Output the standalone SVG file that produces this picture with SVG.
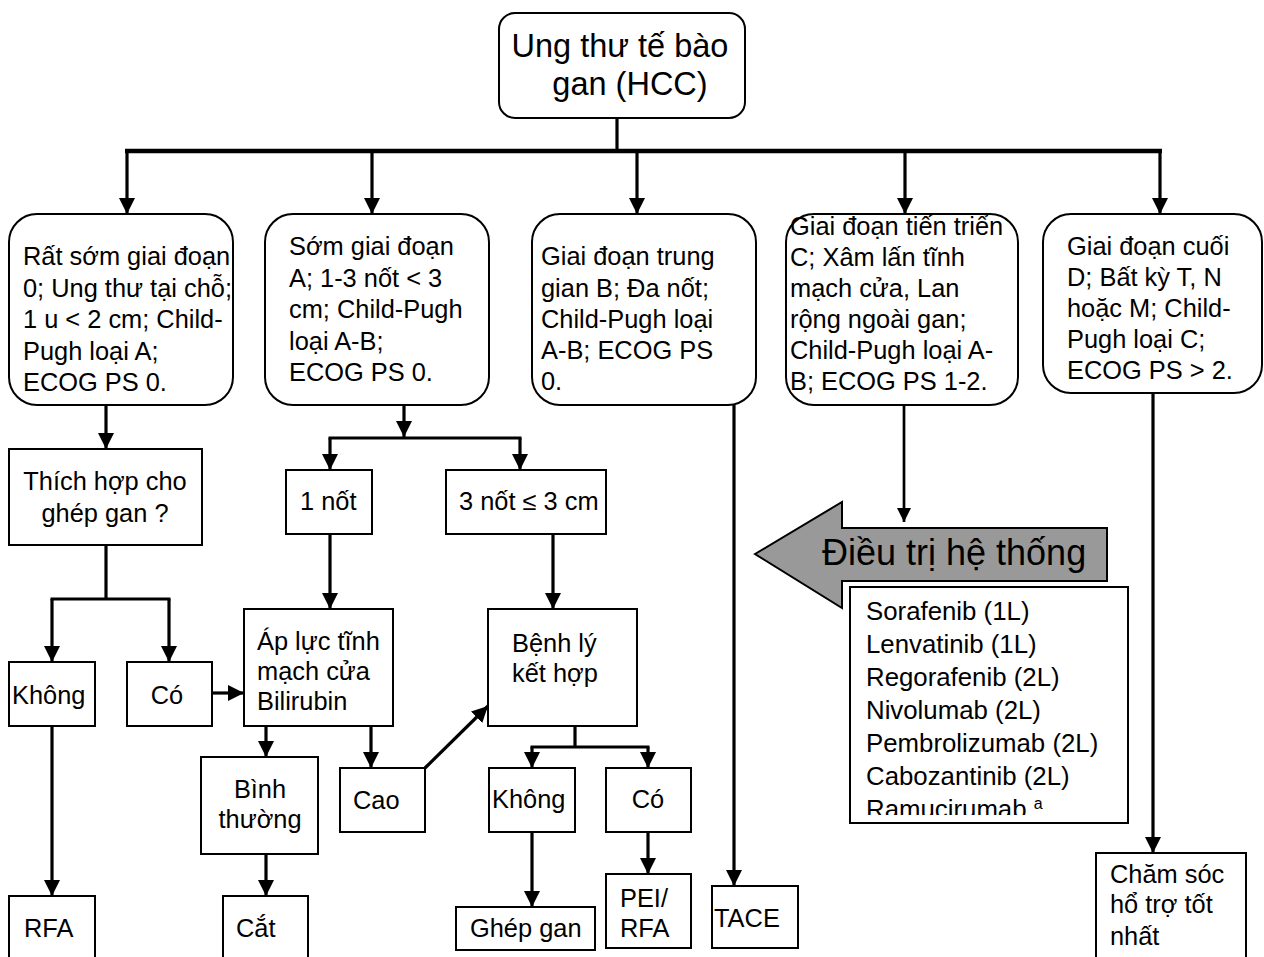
<svg xmlns="http://www.w3.org/2000/svg" width="1264" height="957" viewBox="0 0 1264 957">
<style>
text{font-family:"Liberation Sans",Arial,sans-serif;fill:#000;font-size:25.4px}
.big{font-size:32.5px}
.dr{font-size:25.8px}
.rb{fill:#fff;stroke:#000;stroke-width:2}
.bx{fill:#fff;stroke:#000;stroke-width:2}
.c{stroke:#000;stroke-width:3.2;fill:none}
.ca{stroke:#000;stroke-width:3.2;fill:none;marker-end:url(#ah)}
.mid{text-anchor:middle}
</style>
<defs>
<marker id="ah" markerUnits="userSpaceOnUse" viewBox="0 0 16 16" refX="16" refY="8" markerWidth="16" markerHeight="16" orient="auto">
<path d="M0,0 L16,8 L0,16 z" fill="#000"/>
</marker>
<marker id="ahs" markerUnits="userSpaceOnUse" viewBox="0 0 14 14" refX="14" refY="7" markerWidth="14" markerHeight="14" orient="auto">
<path d="M0,0 L14,7 L0,14 z" fill="#000"/>
</marker>
<clipPath id="drugclip"><rect x="850" y="587" width="278" height="228"/></clipPath>
</defs>

<g id="connectors">
<line class="c" x1="617" y1="118" x2="617" y2="151"/>
<line x1="125" y1="151" x2="1162" y2="151" stroke="#000" stroke-width="4.5"/>
<line class="ca" x1="127" y1="151" x2="127" y2="214"/>
<line class="ca" x1="372" y1="151" x2="372" y2="214"/>
<line class="ca" x1="637" y1="151" x2="637" y2="214"/>
<line class="ca" x1="905" y1="151" x2="905" y2="214"/>
<line class="ca" x1="1160" y1="151" x2="1160" y2="214"/>
<line class="ca" x1="106" y1="405" x2="106" y2="449"/>
<line class="c" x1="106" y1="545" x2="106" y2="599"/>
<line class="c" x1="50.5" y1="599" x2="170.5" y2="599" stroke-width="4"/>
<line class="ca" x1="52" y1="599" x2="52" y2="662"/>
<line class="ca" x1="169" y1="599" x2="169" y2="662"/>
<line class="ca" x1="212" y1="693" x2="244" y2="693" stroke-width="4"/>
<line class="ca" x1="52" y1="726" x2="52" y2="896"/>
<line class="ca" x1="404" y1="405" x2="404" y2="437"/>
<line class="c" x1="328.5" y1="438" x2="521.5" y2="438" stroke-width="4"/>
<line class="ca" x1="330" y1="438" x2="330" y2="470"/>
<line class="ca" x1="520" y1="438" x2="520" y2="470"/>
<line class="ca" x1="330" y1="534" x2="330" y2="609"/>
<line class="ca" x1="553" y1="534" x2="553" y2="609"/>
<line class="ca" x1="266" y1="726" x2="266" y2="757"/>
<line class="ca" x1="371" y1="726" x2="371" y2="768"/>
<line class="ca" x1="266" y1="854" x2="266" y2="896"/>
<line class="ca" x1="425" y1="768" x2="488" y2="706"/>
<line class="c" x1="575" y1="726" x2="575" y2="747"/>
<line class="c" x1="530.5" y1="747" x2="649.5" y2="747" stroke-width="4"/>
<line class="ca" x1="532" y1="747" x2="532" y2="768"/>
<line class="ca" x1="648" y1="747" x2="648" y2="768"/>
<line class="ca" x1="532" y1="832" x2="532" y2="907"/>
<line class="ca" x1="648" y1="832" x2="648" y2="874"/>
<line class="ca" x1="734" y1="405" x2="734" y2="886"/>
<line x1="904" y1="405" x2="904" y2="522" stroke="#000" stroke-width="2.7" marker-end="url(#ahs)"/>
<line class="ca" x1="1153" y1="393" x2="1153" y2="853"/>
</g>

<g id="n-root">
<rect class="rb" x="499" y="13" width="246" height="105" rx="16"/>
<text class="big mid" x="620" y="57">Ung thư tế bào</text>
<text class="big mid" x="630" y="95">gan (HCC)</text>
</g>

<g id="n-stage0">
<rect class="rb" x="9" y="214" width="224" height="191" rx="28"/>
<text x="23" y="265">Rất sớm giai đoạn</text>
<text x="23" y="297">0; Ung thư tại chỗ;</text>
<text x="23" y="328">1 u &lt; 2 cm; Child-</text>
<text x="23" y="360">Pugh loại A;</text>
<text x="23" y="391">ECOG PS 0.</text>
</g>

<g id="n-stageA">
<rect class="rb" x="265" y="214" width="224" height="191" rx="28"/>
<text x="289" y="255">Sớm giai đoạn</text>
<text x="289" y="287">A; 1-3 nốt &lt; 3</text>
<text x="289" y="318">cm; Child-Pugh</text>
<text x="289" y="350">loại A-B;</text>
<text x="289" y="381">ECOG PS 0.</text>
</g>

<g id="n-stageB">
<rect class="rb" x="532" y="214" width="224" height="191" rx="28"/>
<text x="541" y="265">Giai đoạn trung</text>
<text x="541" y="297">gian B; Đa nốt;</text>
<text x="541" y="328">Child-Pugh loại</text>
<text x="541" y="359">A-B; ECOG PS</text>
<text x="541" y="390">0.</text>
</g>

<g id="n-stageC">
<rect class="rb" x="786" y="214" width="232" height="191" rx="28"/>
<text x="790" y="235">Giai đoạn tiến triển</text>
<text x="790" y="266">C; Xâm lấn tĩnh</text>
<text x="790" y="297">mạch cửa, Lan</text>
<text x="790" y="328">rộng ngoài gan;</text>
<text x="790" y="359">Child-Pugh loại A-</text>
<text x="790" y="390">B; ECOG PS 1-2.</text>
</g>

<g id="n-stageD">
<rect class="rb" x="1043" y="214" width="219" height="179" rx="28"/>
<text x="1067" y="255">Giai đoạn cuối</text>
<text x="1067" y="286">D; Bất kỳ T, N</text>
<text x="1067" y="317">hoặc M; Child-</text>
<text x="1067" y="348">Pugh loại C;</text>
<text x="1067" y="379">ECOG PS &gt; 2.</text>
</g>

<g id="n-transplant-q">
<rect class="bx" x="9" y="449" width="193" height="96"/>
<text class="mid" x="105" y="490">Thích hợp cho</text>
<text class="mid" x="105" y="522">ghép gan ?</text>
</g>

<g id="n-khong1">
<rect class="bx" x="9" y="662" width="86" height="64"/>
<text x="12" y="704">Không</text>
</g>

<g id="n-co1">
<rect class="bx" x="127" y="662" width="85" height="64"/>
<text class="mid" x="167" y="704">Có</text>
</g>

<g id="n-1not">
<rect class="bx" x="286" y="470" width="86" height="64"/>
<text x="300" y="510">1 nốt</text>
</g>

<g id="n-3not">
<rect class="bx" x="446" y="470" width="160" height="64"/>
<text x="459" y="510">3 nốt ≤ 3 cm</text>
</g>

<g id="n-apluc">
<rect class="bx" x="244" y="609" width="149" height="117"/>
<text x="257" y="650">Áp lực tĩnh</text>
<text x="257" y="680">mạch cửa</text>
<text x="257" y="710">Bilirubin</text>
</g>

<g id="n-benhly">
<rect class="bx" x="488" y="609" width="149" height="117"/>
<text x="512" y="652">Bệnh lý</text>
<text x="512" y="682">kết hợp</text>
</g>

<g id="n-binhthuong">
<rect class="bx" x="201" y="757" width="117" height="97"/>
<text class="mid" x="260" y="798">Bình</text>
<text class="mid" x="260" y="828">thường</text>
</g>

<g id="n-cao">
<rect class="bx" x="340" y="768" width="85" height="64"/>
<text x="353" y="809">Cao</text>
</g>

<g id="n-khong2">
<rect class="bx" x="489" y="768" width="86" height="64"/>
<text x="492" y="808">Không</text>
</g>

<g id="n-co2">
<rect class="bx" x="606" y="768" width="85" height="64"/>
<text class="mid" x="648" y="808">Có</text>
</g>

<g id="n-rfa">
<rect class="bx" x="9" y="896" width="86" height="70"/>
<text x="24" y="937">RFA</text>
</g>

<g id="n-cat">
<rect class="bx" x="223" y="896" width="85" height="70"/>
<text x="236" y="937">Cắt</text>
</g>

<g id="n-ghepgan">
<rect class="bx" x="456" y="907" width="139" height="43"/>
<text x="470" y="937">Ghép gan</text>
</g>

<g id="n-pei">
<rect class="bx" x="606" y="874" width="85" height="74"/>
<text x="620" y="907">PEI/</text>
<text x="620" y="937">RFA</text>
</g>

<g id="n-tace">
<rect class="bx" x="712" y="886" width="86" height="62"/>
<text x="714" y="927">TACE</text>
</g>

<g id="n-systemic">
<polygon points="755,554 842,502 842,528 1107,528 1107,581 842,581 842,608" fill="#999999" stroke="#000" stroke-width="2"/>
<text x="822" y="565" style="font-size:36px">Điều trị hệ thống</text>
</g>

<g id="n-drugs">
<rect class="bx" x="850" y="587" width="278" height="236"/>
<g clip-path="url(#drugclip)">
<text class="dr" x="866" y="620">Sorafenib (1L)</text>
<text class="dr" x="866" y="653">Lenvatinib (1L)</text>
<text class="dr" x="866" y="686">Regorafenib (2L)</text>
<text class="dr" x="866" y="719">Nivolumab (2L)</text>
<text class="dr" x="866" y="752">Pembrolizumab (2L)</text>
<text class="dr" x="866" y="785">Cabozantinib (2L)</text>
<text class="dr" x="866" y="818">Ramucirumab <tspan style="font-size:16px" dy="-9">a</tspan></text>
</g>
</g>

<g id="n-supportive">
<rect class="bx" x="1096" y="853" width="150" height="115"/>
<text x="1110" y="883">Chăm sóc</text>
<text x="1110" y="913">hổ trợ tốt</text>
<text x="1110" y="945">nhất</text>
</g>
</svg>
